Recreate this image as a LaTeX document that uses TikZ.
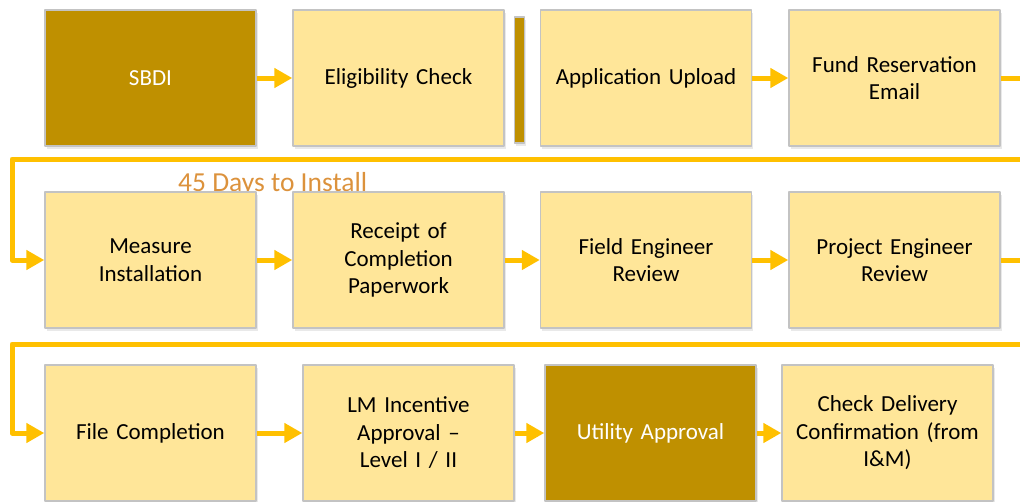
\documentclass[tikz,border=0pt]{standalone}
\usepackage{fontspec}
\setmainfont{Carlito}
\usetikzlibrary{arrows.meta,shadows}
\definecolor{boxfill}{HTML}{FFE699}
\definecolor{boxline}{HTML}{C3C3C3}
\definecolor{gold}{HTML}{BF9000}
\definecolor{linkcol}{HTML}{FFC000}
\definecolor{daytext}{HTML}{DC923C}

\begin{document}
\begin{tikzpicture}
	[x=1pt, y=-1pt, line join=round,
	box/.style = {draw=boxline, line width=1.4pt, fill=boxfill, minimum width=211pt, minimum height=136pt, inner sep=0pt, align=center, text width=205pt,
		font=\fontsize{23}{27.5}\selectfont, drop shadow={shadow xshift=1.5pt, shadow yshift=-3pt, fill=black!25, opacity=0.35}},
	dark/.style = {box, fill=gold, text=white},
	link/.style = {draw=linkcol, line width=5pt, -{Triangle[length=18pt, width=19pt]}}]
	\useasboundingbox (0,0) rectangle (1020,501);
	\clip (0,0) rectangle (1020,501);
	% label behind the second row
	\node[text=daytext, font=\fontsize{27.5}{32}\selectfont, anchor=base west, inner sep=0pt] (days) at (178,191) {45 Days to Install};
	% first row
	\node[dark] (sbdi) at (150.5,78) {SBDI};
	\node[box] (elig) at (398.5,78) {Eligibility Check};
	\node[draw=boxline, line width=1.2pt, fill=gold, minimum width=10pt, minimum height=126pt, inner sep=0pt, drop shadow={shadow xshift=1.5pt, shadow yshift=-3pt, fill=black!25, opacity=0.35}] (bar) at (519.5,80) {};
	\node[box] (upload) at (646,78) {Application Upload};
	\node[box] (fund) at (894.5,78) {Fund Reservation\\Email};
	% second row
	\node[box] (measure) at (150.5,260) {Measure\\Installation};
	\node[box] (receipt) at (398.5,260) {Receipt of\\Completion\\Paperwork};
	\node[box] (field) at (646,260) {Field Engineer\\Review};
	\node[box] (project) at (894.5,260) {Project Engineer\\Review};
	% third row
	\node[box] (file) at (150.5,433) {File Completion};
	\node[box] (lm) at (408.5,433) {LM Incentive\\Approval --\\Level I / II};
	\node[dark] (utility) at (650.5,433) {Utility Approval};
	\node[box] (check) at (887.5,433) {Check Delivery\\Confirmation (from\\I\&M)};
	% turning points of the wrap-around lines
	\coordinate (r1) at (1040,159);
	\coordinate (l1) at (12,159);
	\coordinate (r2) at (1040,344);
	\coordinate (l2) at (12,344);
	\draw[link] (sbdi) -- (elig);
	\draw[link] (upload) -- (fund);
	\draw[link] (fund.east) -| (r1) -- (l1) |- (measure.west);
	\draw[link] (measure) -- (receipt);
	\draw[link] (receipt) -- (field);
	\draw[link] (field) -- (project);
	\draw[link] (project.east) -| (r2) -- (l2) |- (file.west);
	\draw[link] (file) -- (lm);
	\draw[link] (lm) -- (utility);
	\draw[link] (utility) -- (check);
\end{tikzpicture}
\end{document}
